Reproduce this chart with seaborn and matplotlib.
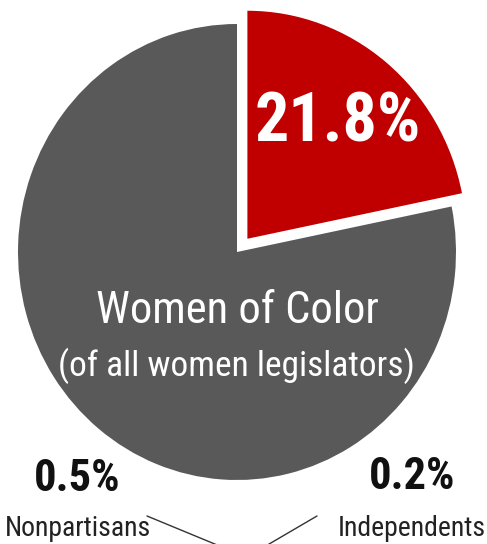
import matplotlib
matplotlib.use("Agg")
import matplotlib.pyplot as plt
import seaborn as sns

# Share of women legislators
segments = ["Women of Color", "Other women legislators"]
shares = [21.8, 78.2]
segment_colors = ["#c00000", "#595959"]

# Small groups noted beneath the pie
group_labels = ["Nonpartisans", "Independents"]
group_shares = [0.5, 0.2]

sns.set_theme(style="white")
plt.rcParams["font.family"] = ["Roboto Condensed", "DejaVu Sans"]

W, H = 487, 544
fig = plt.figure(figsize=(W / 100, H / 100), dpi=100)
ax = fig.add_axes([0, 0, 1, 1])

# pie geometry in pixels
cx, cy, rx, ry = 237, 252, 219, 228


def px(x, y):
    return ((x - cx) / rx, (cy - y) / ry)


wedges, texts, autotexts = ax.pie(
    shares,
    colors=sns.color_palette(segment_colors),
    startangle=90,
    counterclock=False,
    explode=[0.075, 0.0],
    autopct=lambda p: f"{p:.1f}%" if p < 50 else "",
    pctdistance=0.655,
    wedgeprops=dict(linewidth=0),
)
autotexts[0].set_color("white")
autotexts[0].set_fontsize(49)
autotexts[0].set_fontweight("bold")

ax.set_aspect("auto")
ax.set_xlim((0 - cx) / rx, (W - cx) / rx)
ax.set_ylim((cy - H) / ry, cy / ry)
ax.axis("off")

ax.text(*px(237, 311), segments[0], color="white", fontsize=32,
        ha="center", va="center")
ax.text(*px(236, 366), "(of all women legislators)", color="white",
        fontsize=25.5, ha="center", va="center")

# bottom notes with leader lines
note_pos = [(77, 479, 78), (412, 477, 412)]
for (lx, ly, nx), lab, val in zip(note_pos, group_labels, group_shares):
    ax.text(*px(lx, ly), f"{val}%", color="#111111", fontsize=32,
            fontweight="bold", ha="center", va="center")
    ax.text(*px(nx, 536), lab, color="#222222", fontsize=20,
            ha="center", va="baseline")

for (x0, y0), (x1, y1) in [((147, 516), (222, 547)), ((317, 516), (264, 547))]:
    (a0, b0), (a1, b1) = px(x0, y0), px(x1, y1)
    ax.plot([a0, a1], [b0, b1], color="#333333", linewidth=1.0)

fig.savefig("out.png", dpi=100, facecolor="white")
